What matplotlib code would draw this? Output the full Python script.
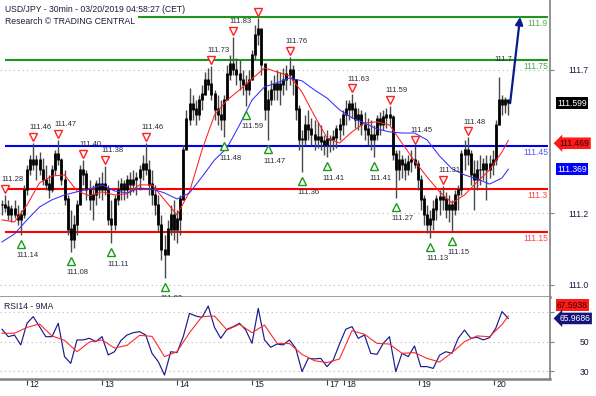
import matplotlib
matplotlib.use("Agg")
import matplotlib.pyplot as plt
from matplotlib.transforms import offset_copy
import numpy as np

# USD/JPY, bars (two candles merged into one bar)
high = [111.262, 111.279, 111.262, 111.244, 111.262, 111.244, 111.227, 111.314, 111.384, 111.419,
        111.46, 111.419, 111.429, 111.408, 111.384, 111.349, 111.384, 111.436, 111.47, 111.408,
        111.366, 111.279, 111.227, 111.209, 111.262, 111.384, 111.40, 111.366, 111.331, 111.314,
        111.331, 111.342, 111.359, 111.38, 111.314, 111.262, 111.279, 111.331, 111.338, 111.331,
        111.349, 111.359, 111.366, 111.359, 111.384, 111.419, 111.46, 111.401, 111.366, 111.314,
        111.279, 111.209, 111.140, 111.192, 111.244, 111.262, 111.227, 111.279, 111.453, 111.576,
        111.652, 111.628, 111.610, 111.628, 111.663, 111.708, 111.722, 111.73, 111.645, 111.628,
        111.610, 111.628, 111.733, 111.767, 111.83, 111.757, 111.750, 111.715, 111.698, 111.715,
        111.785, 111.872, 111.896, 111.855, 111.733, 111.645, 111.680, 111.698, 111.715, 111.708,
        111.722, 111.733, 111.76, 111.733, 111.680, 111.593, 111.506, 111.558, 111.576, 111.548,
        111.541, 111.534, 111.523, 111.488, 111.506, 111.488, 111.506, 111.523, 111.548, 111.576,
        111.610, 111.610, 111.63, 111.603, 111.583, 111.576, 111.569, 111.548, 111.541, 111.523,
        111.558, 111.569, 111.576, 111.583, 111.59, 111.558, 111.436, 111.436, 111.419, 111.408,
        111.419, 111.436, 111.45, 111.401, 111.349, 111.279, 111.244, 111.227, 111.262, 111.279,
        111.296, 111.31, 111.290, 111.279, 111.262, 111.296, 111.314, 111.436, 111.471, 111.48,
        111.436, 111.401, 111.401, 111.419, 111.408, 111.419, 111.419, 111.436, 111.541, 111.69,
        111.628, 111.621, 111.610]
low = [111.209, 111.220, 111.192, 111.185, 111.199, 111.174, 111.14, 111.199, 111.279, 111.349,
       111.366, 111.331, 111.349, 111.314, 111.296, 111.269, 111.290, 111.349, 111.384, 111.314,
       111.244, 111.140, 111.08, 111.094, 111.140, 111.244, 111.314, 111.262, 111.227, 111.192,
       111.244, 111.269, 111.262, 111.279, 111.174, 111.11, 111.157, 111.244, 111.262, 111.262,
       111.269, 111.279, 111.290, 111.279, 111.296, 111.331, 111.349, 111.279, 111.244, 111.209,
       111.150, 111.052, 110.99, 111.087, 111.140, 111.122, 111.112, 111.140, 111.262, 111.436,
       111.523, 111.541, 111.523, 111.541, 111.576, 111.628, 111.645, 111.610, 111.541, 111.523,
       111.506, 111.48, 111.610, 111.680, 111.698, 111.663, 111.645, 111.628, 111.59, 111.628,
       111.680, 111.750, 111.802, 111.698, 111.541, 111.47, 111.593, 111.610, 111.610, 111.593,
       111.628, 111.645, 111.663, 111.628, 111.541, 111.436, 111.36, 111.453, 111.471, 111.453,
       111.436, 111.443, 111.436, 111.419, 111.41, 111.429, 111.436, 111.443, 111.471, 111.488,
       111.523, 111.541, 111.548, 111.513, 111.506, 111.488, 111.471, 111.453, 111.436, 111.41,
       111.471, 111.488, 111.506, 111.513, 111.523, 111.401, 111.27, 111.331, 111.338, 111.331,
       111.349, 111.359, 111.373, 111.296, 111.227, 111.174, 111.147, 111.13, 111.157, 111.192,
       111.209, 111.227, 111.199, 111.185, 111.15, 111.209, 111.227, 111.279, 111.366, 111.384,
       111.314, 111.227, 111.296, 111.314, 111.331, 111.262, 111.338, 111.349, 111.384, 111.523,
       111.558, 111.565, 111.558]
close = [111.244, 111.234, 111.209, 111.227, 111.209, 111.192, 111.209, 111.296, 111.366, 111.401,
         111.384, 111.401, 111.366, 111.331, 111.314, 111.296, 111.366, 111.419, 111.401, 111.331,
         111.262, 111.157, 111.122, 111.174, 111.244, 111.366, 111.349, 111.296, 111.262, 111.279,
         111.314, 111.296, 111.314, 111.296, 111.192, 111.174, 111.262, 111.296, 111.314, 111.296,
         111.331, 111.314, 111.331, 111.338, 111.366, 111.384, 111.366, 111.314, 111.279, 111.244,
         111.174, 111.087, 111.070, 111.157, 111.209, 111.157, 111.192, 111.262, 111.436, 111.541,
         111.593, 111.576, 111.558, 111.610, 111.628, 111.680, 111.663, 111.628, 111.576, 111.558,
         111.541, 111.610, 111.698, 111.733, 111.715, 111.698, 111.680, 111.663, 111.645, 111.680,
         111.767, 111.837, 111.855, 111.733, 111.576, 111.610, 111.645, 111.663, 111.645, 111.663,
         111.680, 111.698, 111.715, 111.680, 111.576, 111.471, 111.471, 111.523, 111.506, 111.488,
         111.471, 111.478, 111.464, 111.453, 111.471, 111.471, 111.478, 111.506, 111.523, 111.558,
         111.576, 111.593, 111.576, 111.541, 111.558, 111.523, 111.506, 111.488, 111.471, 111.488,
         111.541, 111.523, 111.548, 111.558, 111.548, 111.419, 111.366, 111.401, 111.384, 111.366,
         111.394, 111.401, 111.384, 111.331, 111.262, 111.209, 111.174, 111.192, 111.227, 111.262,
         111.269, 111.262, 111.227, 111.244, 111.227, 111.279, 111.296, 111.419, 111.436, 111.419,
         111.349, 111.331, 111.366, 111.366, 111.384, 111.366, 111.384, 111.401, 111.523, 111.610,
         111.593, 111.610, 111.599]

# moving averages, read every 4th bar
ma_bars = list(range(0, 161, 4)) + [162]
ma_fast = [111.192, 111.185, 111.244, 111.321, 111.345, 111.349, 111.293, 111.276, 111.290, 111.279,
           111.283, 111.314, 111.314, 111.262, 111.209, 111.290, 111.436, 111.558, 111.610, 111.645,
           111.684, 111.722, 111.708, 111.694, 111.638, 111.555, 111.478, 111.460, 111.499, 111.530,
           111.534, 111.523, 111.460, 111.398, 111.342, 111.290, 111.251, 111.279, 111.324, 111.366,
           111.429, 111.469]
ma_slow = [111.115, 111.143, 111.192, 111.237, 111.262, 111.279, 111.290, 111.300, 111.314, 111.293,
           111.286, 111.303, 111.300, 111.286, 111.265, 111.286, 111.342, 111.401, 111.443, 111.523,
           111.610, 111.656, 111.670, 111.687, 111.677, 111.645, 111.617, 111.576, 111.548, 111.530,
           111.509, 111.499, 111.495, 111.495, 111.471, 111.415, 111.370, 111.349, 111.335, 111.317,
           111.338, 111.369]

# RSI14 every 2nd bar, its 9MA every 4th bar
rsi_bars = list(range(0, 163, 2))
rsi = [58.6, 53.6, 54.7, 48.0, 62.7, 67.2, 60.4, 53.6, 53.6, 62.7,
       40.1, 35.5, 51.4, 51.4, 52.5, 50.2, 53.6, 41.2, 43.4, 50.9,
       54.7, 56.3, 57.0, 54.7, 42.3, 36.7, 27.6, 43.4, 42.8, 53.6,
       69.4, 67.6, 66.7, 74.4, 59.9, 52.5, 58.6, 60.4, 62.7, 58.1,
       49.1, 72.8, 51.4, 46.4, 48.6, 48.0, 51.4, 45.7, 29.9, 38.9,
       38.5, 38.9, 33.3, 37.8, 48.6, 58.6, 60.4, 52.5, 54.7, 42.3,
       41.6, 49.1, 53.6, 29.9, 42.3, 40.1, 47.3, 33.3, 33.3, 32.1,
       41.0, 43.4, 42.3, 52.5, 58.1, 52.5, 53.2, 51.4, 52.9, 59.3,
       70.6, 65.9686]
rsi_ma = [55.9, 55.9, 59.9, 62.2, 54.1, 51.1, 43.4, 50.0, 51.4, 45.9,
          47.7, 54.5, 53.8, 40.1, 43.4, 56.3, 67.2, 67.6, 58.1, 62.0,
          56.3, 61.5, 49.1, 48.9, 41.6, 37.3, 36.0, 38.5, 57.7, 55.2,
          49.1, 48.6, 42.3, 42.8, 38.9, 36.4, 42.8, 50.2, 54.1, 53.6,
          61.8, 67.5938]

# swing highs / lows flagged on the chart
peak_bars = [1, 10, 18, 26, 33, 46, 67, 74, 82, 92, 112, 124, 132, 141, 149]
peak_lbl = ['111.28', '111.46', '111.47', '111.40', '111.38', '111.46', '111.73', '111.83', '',
            '111.76', '111.63', '111.59', '111.45', '111.31', '111.48']
trough_bars = [6, 22, 35, 52, 71, 78, 85, 96, 104, 119, 126, 137, 144]
trough_lbl = ['111.14', '111.08', '111.11', '111.03', '111.48', '111.59', '111.47', '111.36',
              '111.41', '111.41', '111.27', '111.13', '111.15']

resistances = [111.9, 111.75]
pivot = 111.45
supports = [111.3, 111.15]
target = 111.9

price_ticks = [111.715, 111.216, 110.965]
price_tick_lbl = ['111.7', '111.2', '111.0']
rsi_ticks = [70, 50, 30]
rsi_tick_lbl = ['', '50', '30']   # 70 sits under the value tags

day_bars = [8, 32, 56, 80, 104, 109.5, 133.5, 157.5]
day_lbl = ['12', '13', '14', '15', '17', '18', '19', '20']

# ------------------------------------------------------------------
W, H = 596, 396
fig = plt.figure(figsize=(W / 100, H / 100), dpi=100)
fig.patch.set_facecolor('white')
plt.rcParams['font.family'] = ['Liberation Sans', 'DejaVu Sans']

ax = fig.add_axes([0, (H - 297) / H, 550 / W, 297 / H])
ax2 = fig.add_axes([0, (H - 379) / H, 550 / W, 82 / H], sharex=ax)

x = np.arange(len(close))
opn = np.r_[close[0], close[:-1]]

ax.set_xlim(-0.64, 175.36)
ax.set_ylim(110.923, 111.959)
ax2.set_ylim(24.9, 80.5)

GRAY = '#808080'
TXT = '#1c1c3c'
for a in (ax, ax2):
    a.spines['top'].set_visible(False)
    a.spines['left'].set_visible(False)
    a.spines['right'].set_color(GRAY)
    a.spines['right'].set_linewidth(1.2)
    a.spines['bottom'].set_color(GRAY)
    a.spines['bottom'].set_linewidth(1.8)
    a.yaxis.tick_right()
    a.tick_params(axis='y', length=3, color=GRAY, labelsize=6.2, labelcolor=TXT, pad=25)
    a.grid(axis='y', linestyle=(0, (1, 3)), color='#b8b8b8', linewidth=0.8)
    a.set_axisbelow(True)
ax.tick_params(axis='x', bottom=False, labelbottom=False)

ax.set_yticks(price_ticks, price_tick_lbl)
ax2.set_yticks(rsi_ticks, rsi_tick_lbl)
for a in (ax, ax2):
    for lbl in a.get_yticklabels():
        lbl.set_horizontalalignment('right')

# level lines
for lv in resistances:
    ax.hlines(lv, 1, 174.7, color='#1e961e', lw=1.5, zorder=2)
    ax.annotate(f'{lv:g}', (174.7, lv), xytext=(0, -1.5), textcoords='offset points',
                ha='right', va='top', fontsize=6.2, color='#4fa84f')
ax.hlines(pivot, 1, 174.7, color='#0000f0', lw=1.5, zorder=2)
ax.annotate(f'{pivot:g}', (174.7, pivot), xytext=(0, -1.5), textcoords='offset points',
            ha='right', va='top', fontsize=6.2, color='#5555ff')
for lv in supports:
    ax.hlines(lv, 1, 174.7, color='#ff0000', lw=1.5, zorder=2)
    ax.annotate(f'{lv:g}', (174.7, lv), xytext=(0, -1.5), textcoords='offset points',
                ha='right', va='top', fontsize=6.2, color='#ff4545')

# candles
ax.vlines(x, low, high, color='#4a4a4a', lw=1.0, zorder=3)
ax.vlines(x, np.minimum(opn, close), np.maximum(opn, close) + 0.005, color='black', lw=2.0, zorder=3)

# moving averages
ax.plot(ma_bars, ma_fast, color='#ff2020', lw=0.75, zorder=4)
ax.plot(ma_bars, ma_slow, color='#3030ff', lw=0.75, zorder=4)

# swing markers
hi = np.array(high)
lo = np.array(low)
up = offset_copy(ax.transData, fig=fig, x=0, y=6, units='dots')
dn = offset_copy(ax.transData, fig=fig, x=0, y=-9, units='dots')
ax.plot(peak_bars, hi[peak_bars], 'v', transform=up, ms=6, mfc='white', mec='#ff2020', mew=1, zorder=5)
ax.plot(trough_bars, lo[trough_bars], '^', transform=dn, ms=6, mfc='white', mec='#1a9a1a', mew=1, zorder=5)
for b, t in zip(peak_bars, peak_lbl):
    ax.annotate(t, (b, hi[b]), xytext=(5, 11), textcoords='offset points', ha='center',
                va='center', fontsize=5.5, color='#2a2a3a', zorder=6, clip_on=True)
for b, t in zip(trough_bars, trough_lbl):
    ax.annotate(t, (b, lo[b]), xytext=(5, -15), textcoords='offset points', ha='center',
                va='center', fontsize=5.5, color='#2a2a3a', zorder=6, clip_on=True)
ax.annotate('111.7', (159, hi[159]), xytext=(3, 13), textcoords='offset points', ha='center',
            va='center', fontsize=5.5, color='#2a2a3a', zorder=6)

# projected path
ax.annotate('', xy=(165.8, target), xytext=(162.6, close[-1]),
            arrowprops=dict(arrowstyle='-|>', color='#0a1a8a', lw=1.6, mutation_scale=11,
                            shrinkA=0, shrinkB=0), zorder=7)

# price tags
ax.annotate(f'{close[-1]:.3f}', (1, close[-1]), xycoords=('axes fraction', 'data'),
            xytext=(5, 0), textcoords='offset points', ha='left', va='center', fontsize=6.2,
            color='white', bbox=dict(boxstyle='square,pad=0.15', fc='black', ec='none'),
            annotation_clip=False)
ax.annotate(f'{ma_fast[-1]:.3f}', (1, ma_fast[-1]), xycoords=('axes fraction', 'data'),
            xytext=(7, -2), textcoords='offset points', ha='left', va='center', fontsize=6.2,
            color='#3a0000', bbox=dict(boxstyle='larrow,pad=0.15', fc='#ff1a1a', ec='none'),
            annotation_clip=False)
ax.annotate(f'{ma_slow[-1]:.3f}', (1, ma_slow[-1]), xycoords=('axes fraction', 'data'),
            xytext=(5, 0), textcoords='offset points', ha='left', va='center', fontsize=6.2,
            color='white', bbox=dict(boxstyle='square,pad=0.15', fc='#0000ff', ec='none'),
            annotation_clip=False)

# RSI panel
ax2.plot(rsi_bars, rsi, color='#1a1a90', lw=0.85, zorder=3)
ax2.plot(ma_bars, rsi_ma, color='#ff2a2a', lw=0.8, zorder=4)
ax2.text(0.008, 0.89, 'RSI14 - 9MA', transform=ax2.transAxes, fontsize=6.2, color=TXT, va='center')
ax2.annotate(f'{rsi_ma[-1]:.4f}', (1, rsi[-1]), xycoords=('axes fraction', 'data'),
             xytext=(5, 9.5), textcoords='offset points', ha='left', va='center', fontsize=6.2,
             color='#3a0000', bbox=dict(boxstyle='square,pad=0.15', fc='#ff1a1a', ec='none'),
             annotation_clip=False)
ax2.annotate(f'{rsi[-1]:.4f}', (1, rsi[-1]), xycoords=('axes fraction', 'data'),
             xytext=(7, 0), textcoords='offset points', ha='left', va='center', fontsize=6.2,
             color='white', bbox=dict(boxstyle='larrow,pad=0.15', fc='#14147a', ec='none'),
             annotation_clip=False)

# day axis
ax2.set_xticks(day_bars)
ax2.tick_params(axis='x', length=4, width=0.8, color='#404040', labelbottom=False)
for b, t in zip(day_bars, day_lbl):
    ax2.annotate(t, (b, 0), xycoords=('data', 'axes fraction'), xytext=(1.5, -1),
                 textcoords='offset points', ha='left', va='top', fontsize=6.3, color=TXT,
                 annotation_clip=False)

# header
fig.text(5 / W, 1 - 10 / H, 'USD/JPY - 30min - 03/20/2019 04:58:27 (CET)', fontsize=6.2,
         color=TXT, va='center', ha='left',
         bbox=dict(boxstyle='square,pad=0.1', fc='white', ec='none'))
fig.text(5 / W, 1 - 21 / H, 'Research \u00a9 TRADING CENTRAL', fontsize=6.2,
         color=TXT, va='center', ha='left',
         bbox=dict(boxstyle='square,pad=0.3', fc='white', ec='none'))

fig.savefig('out.png', dpi=100, facecolor='white')
